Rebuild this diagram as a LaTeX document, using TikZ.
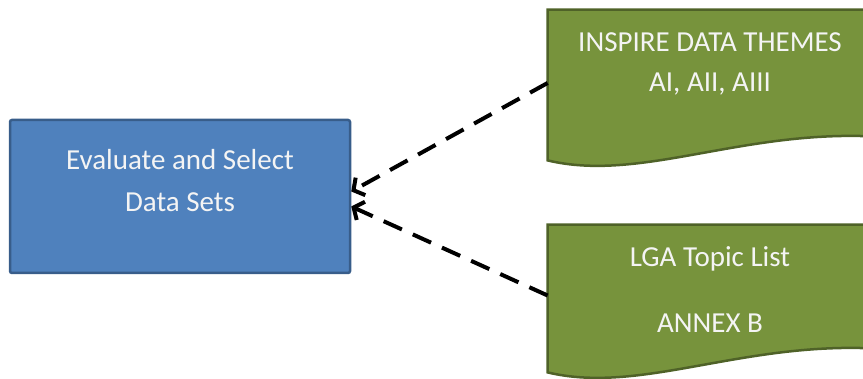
\documentclass[tikz,border=0pt]{standalone}
\usepackage{fontspec}
\setmainfont{Carlito}
\usetikzlibrary{positioning, arrows.meta, calc, backgrounds}

\definecolor{boxblue}{HTML}{4F81BD}
\definecolor{boxblueline}{HTML}{385D8A}
\definecolor{docgreen}{HTML}{77933C}
\definecolor{docgreenline}{HTML}{4F6228}
\definecolor{lighttext}{HTML}{F4F4F4}

\begin{document}
\begin{tikzpicture}[x=0.5pt,y=-0.5pt,on grid,
    txt/.style={text=lighttext,align=center,inner sep=0pt},
    doc/.style={fill=docgreen,draw=docgreenline,line width=1.25pt},
    feed/.style={draw=black,line width=2pt,dash pattern=on 10pt off 6pt,-{Straight Barb[length=4pt,width=10pt]}}]
	\useasboundingbox (0,0) rectangle (863,379);
	\node[txt,fill=boxblue,draw=boxblueline,line width=1.25pt,rounded corners=1pt,minimum width=170pt,minimum height=76.5pt,
		text height=25.5pt,text depth=10pt,font=\fontsize{14.5}{21}\selectfont] (sel) at (180,196.5) {Evaluate and Select\\Data Sets};
	\node[txt,minimum width=162pt,minimum height=75pt,text height=17pt,text depth=10pt,
		font=\fontsize{14.5}{20}\selectfont] (insp) at (710,85) {INSPIRE DATA THEMES\\AI, AII, AIII};
	\node[txt,minimum width=162pt,minimum height=73.5pt,text height=44pt,text depth=10pt,
		font=\fontsize{14.5}{33}\selectfont] (lga) [below=106.75pt of insp] {LGA Topic List\\ANNEX B};
	% document shapes behind the text
	\begin{scope}[on background layer]
		\path[doc] (insp.north west) -- (insp.north east) -- ($(insp.south east)+(0,-24)$)
			.. controls ($(insp.south west)+(192,-30)$) and ($(insp.south west)+(92,22)$) .. (insp.south west) -- cycle;
		\path[doc] (lga.north west) -- (lga.north east) -- ($(lga.south east)+(0,-24)$)
			.. controls ($(lga.south west)+(192,-30)$) and ($(lga.south west)+(92,22)$) .. (lga.south west) -- cycle;
	\end{scope}
	\path ([yshift=1pt]insp.west) edge[feed] ([yshift=2.5pt]sel.east)
		  ([yshift=1.5pt]lga.west) edge[feed] ([yshift=-5pt]sel.east);
\end{tikzpicture}
\end{document}
